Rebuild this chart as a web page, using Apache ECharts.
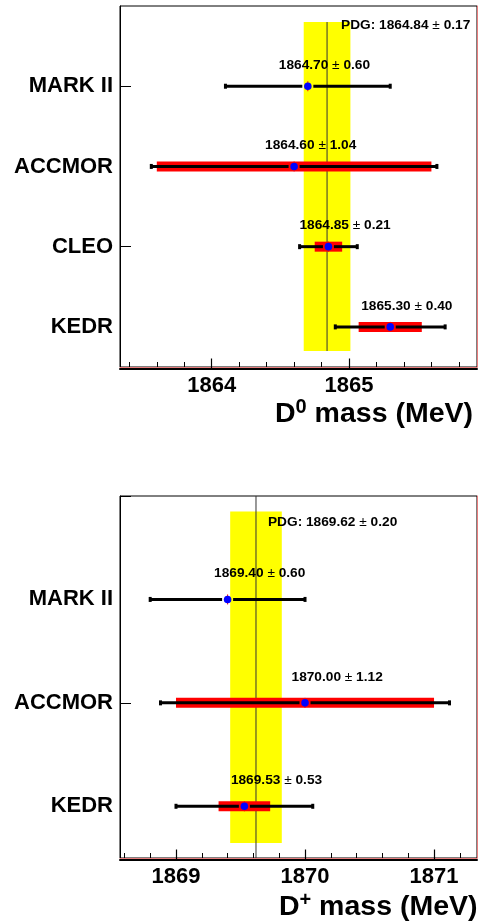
<!DOCTYPE html>
<html><head><meta charset="utf-8">
<script src="https://cdn.jsdelivr.net/npm/echarts@6/dist/echarts.min.js"></script>
<style>html,body{margin:0;padding:0;background:#fff}#c{width:482px;height:924px}</style>
</head><body><div id="c"></div>
<script>
// ---- D0 panel data ----
const d0Experiments = ['KEDR', 'CLEO', 'ACCMOR', 'MARK II'];
const d0Mass = [1865.30, 1864.85, 1864.60, 1864.70];
const d0TotalErr = [0.40, 0.21, 1.04, 0.60];
const d0SystErr = [0.23, 0.10, 1.00, 0];
const d0Pdg = [1864.84, 0.17];
const d0TickLabels = [1864, 1865];
const d0MinorTicks = [1863.4, 1863.6, 1863.8, 1864.2, 1864.4, 1864.6, 1864.8, 1865.2, 1865.4, 1865.6, 1865.8];

// ---- D+ panel data ----
const dpExperiments = ['KEDR', 'ACCMOR', 'MARK II'];
const dpMass = [1869.53, 1870.00, 1869.40];
const dpTotalErr = [0.53, 1.12, 0.60];
const dpSystErr = [0.20, 1.00, 0];
const dpPdg = [1869.62, 0.20];
const dpTickLabels = [1869, 1870, 1871];
const dpMinorTicks = [1868.6, 1868.8, 1869.2, 1869.4, 1869.6, 1869.8, 1870.2, 1870.4, 1870.6, 1870.8, 1871.2];

const FONT = 'Liberation Sans, Arial, Helvetica, sans-serif';
const PINK = '#e87c7c';
const VAL_FS = 13.7;

const panels = [
  { exps: d0Experiments, mass: d0Mass, tot: d0TotalErr, sys: d0SystErr, pdg: d0Pdg,
    ticks: d0TickLabels, minor: d0MinorTicks, xmin: 1863.332, xmax: 1865.932, ymin: 0.5, ymax: 5,
    grid: { left: 120, top: 6, width: 357, height: 361 },
    bandY: [0.7, 4.8], lineY: [0.7, 4.8], labelDx: -29, labelDy: -21, pdgDx: 14, pdgDy: 19 },
  { exps: dpExperiments, mass: dpMass, tot: dpTotalErr, sys: dpSystErr, pdg: dpPdg,
    ticks: dpTickLabels, minor: dpMinorTicks, xmin: 1868.566, xmax: 1871.333, ymin: 0.5, ymax: 4,
    grid: { left: 120, top: 496, width: 357, height: 362 },
    bandY: [0.646, 3.85], lineY: [0.5, 4], labelDx: -13.5, labelDy: -26, pdgDx: 12, pdgDy: 26 }
];

const richVal = {
  b: { fontFamily: FONT, fontWeight: 'bold', fontSize: VAL_FS, fill: '#000', color: '#000' },
  n: { fontFamily: FONT, fontWeight: 'normal', fontSize: VAL_FS, fill: '#000', color: '#000' }
};

function measRender(p) {
  return function (params, api) {
    const v = api.value(0), y = api.value(1), tot = api.value(2), sys = api.value(3);
    const c = api.coord([v, y]);
    const lo = api.coord([v - tot, y])[0], hi = api.coord([v + tot, y])[0];
    const ch = [];
    if (sys > 0) {
      const sl = api.coord([v - sys, y])[0], sh = api.coord([v + sys, y])[0];
      ch.push({ type: 'rect', shape: { x: sl, y: c[1] - 5, width: sh - sl, height: 10 }, style: { fill: '#ff0000' } });
    }
    const gap = 5.5;
    ch.push({ type: 'line', shape: { x1: lo, y1: c[1], x2: c[0] - gap, y2: c[1] }, style: { stroke: '#000', lineWidth: 3 } });
    ch.push({ type: 'line', shape: { x1: c[0] + gap, y1: c[1], x2: hi, y2: c[1] }, style: { stroke: '#000', lineWidth: 3 } });
    ch.push({ type: 'rect', shape: { x: lo - 1.5, y: c[1] - 2.5, width: 3, height: 5 }, style: { fill: '#000' } });
    ch.push({ type: 'rect', shape: { x: hi - 1.5, y: c[1] - 2.5, width: 3, height: 5 }, style: { fill: '#000' } });
    ch.push({ type: 'line', shape: { x1: c[0], y1: c[1] - 5, x2: c[0], y2: c[1] + 5 }, style: { stroke: '#ff0000', lineWidth: 1 } });
    ch.push({ type: 'circle', shape: { cx: c[0], cy: c[1], r: 3.8 }, style: { fill: '#0000ff' } });
    ch.push({ type: 'text', style: {
      text: '{b|' + v.toFixed(2) + '} {n|\u00b1} {b|' + tot.toFixed(2) + '}', rich: richVal,
      x: c[0] + p.labelDx, y: c[1] + p.labelDy, align: 'left', verticalAlign: 'middle',
      fontFamily: FONT, fontSize: VAL_FS, fontWeight: 'bold', fill: '#000' } });
    return { type: 'group', children: ch };
  };
}

function pdgRender(p) {
  return function (params, api) {
    const v = api.value(0), e = api.value(1);
    const xl = api.coord([v - e, p.bandY[1]]), xr = api.coord([v + e, p.bandY[0]]);
    const lt = api.coord([v, p.lineY[1]]), lb = api.coord([v, p.lineY[0]]);
    const top = api.coord([v, p.ymax])[1];
    return { type: 'group', children: [
      { type: 'rect', shape: { x: xl[0], y: xl[1], width: xr[0] - xl[0], height: xr[1] - xl[1] }, style: { fill: '#ffff00' } },
      { type: 'line', shape: { x1: lt[0], y1: lt[1], x2: lb[0], y2: lb[1] }, style: { stroke: '#333', lineWidth: 1 } },
      { type: 'text', style: {
        text: '{b|PDG: ' + v.toFixed(2) + '} {n|\u00b1} {b|' + e.toFixed(2) + '}', rich: richVal,
        x: lt[0] + p.pdgDx, y: top + p.pdgDy, align: 'left', verticalAlign: 'middle',
        fontFamily: FONT, fontSize: VAL_FS, fontWeight: 'bold', fill: '#000' } }
    ] };
  };
}

const grids = [], xAxes = [], yAxes = [], series = [];
panels.forEach((p, i) => {
  grids.push(Object.assign({ show: true, borderColor: '#000', borderWidth: 1, backgroundColor: 'transparent' }, p.grid));
  xAxes.push({ type: 'value', gridIndex: i, min: p.xmin, max: p.xmax, position: 'bottom', offset: 1.5,
    axisLine: { onZero: false, lineStyle: { color: '#000', width: 2 } },
    axisTick: { customValues: p.ticks, inside: true, length: 10, lineStyle: { color: '#000', width: 1.2 } },
    axisLabel: { customValues: p.ticks, formatter: v => String(v), fontFamily: FONT, fontSize: 22, fontWeight: 'bold', color: '#000', margin: 6 },
    splitLine: { show: false } });
  xAxes.push({ type: 'value', gridIndex: i, min: p.xmin, max: p.xmax, position: 'bottom', offset: 0,
    axisLine: { onZero: false, lineStyle: { color: PINK, width: 1 } },
    axisTick: { customValues: p.minor, inside: true, length: 5, lineStyle: { color: '#000', width: 1 } },
    axisLabel: { show: false }, splitLine: { show: false } });
  const exps = p.exps;
  yAxes.push({ type: 'value', gridIndex: i, min: p.ymin, max: p.ymax, position: 'left',
    axisLine: { onZero: false, lineStyle: { color: '#000', width: 1 } },
    axisTick: { customValues: [2, 4], inside: true, length: 11, lineStyle: { color: '#000', width: 1 } },
    axisLabel: { customValues: exps.map((_, k) => k + 1), formatter: v => exps[Math.round(v) - 1] || '',
      fontFamily: FONT, fontSize: 22, fontWeight: 'bold', color: '#000', margin: 7 },
    splitLine: { show: false } });
  yAxes.push({ type: 'value', gridIndex: i, min: p.ymin, max: p.ymax, position: 'right',
    axisLine: { onZero: false, lineStyle: { color: PINK, width: 1 } },
    axisTick: { show: false }, axisLabel: { show: false }, splitLine: { show: false } });
  series.push({ type: 'custom', xAxisIndex: 2 * i, yAxisIndex: 2 * i, z: 1, silent: true,
    renderItem: pdgRender(p), data: [[p.pdg[0], p.pdg[1]]] });
  series.push({ type: 'custom', xAxisIndex: 2 * i, yAxisIndex: 2 * i, z: 2, silent: true,
    renderItem: measRender(p), data: p.mass.map((m, k) => [m, k + 1, p.tot[k], p.sys[k]]) });
});

const titleRich = {
  a: { fontFamily: FONT, fontWeight: 'bold', fontSize: 28.5, lineHeight: 34, fill: '#000', color: '#000' },
  s: { fontFamily: FONT, fontWeight: 'bold', fontSize: 20, lineHeight: 18, verticalAlign: 'top', fill: '#000', color: '#000' }
};

const chart = echarts.init(document.getElementById('c'), null, { renderer: 'canvas' });
chart.setOption({
  animation: false,
  backgroundColor: '#fff',
  grid: grids, xAxis: xAxes, yAxis: yAxes, series: series,
  graphic: [
    { type: 'text', z: 10, style: { text: '{a|D}{s|0}{a| mass (MeV)}', rich: titleRich, x: 473, y: 414,
      align: 'right', verticalAlign: 'middle', textAlign: 'right', textVerticalAlign: 'middle' } },
    { type: 'text', z: 10, style: { text: '{a|D}{s|+}{a| mass (MeV)}', rich: titleRich, x: 477.5, y: 907,
      align: 'right', verticalAlign: 'middle', textAlign: 'right', textVerticalAlign: 'middle' } }
  ]
});
</script></body></html>
